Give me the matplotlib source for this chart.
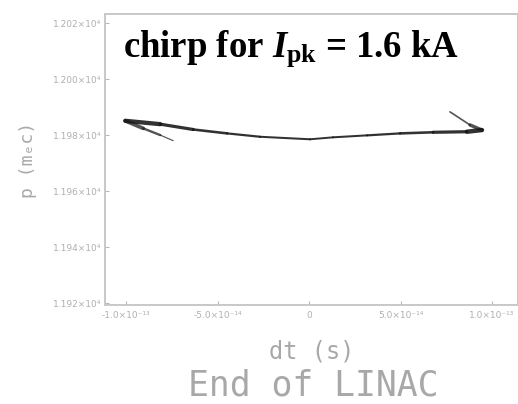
import numpy as np
import matplotlib.pyplot as plt
from matplotlib.collections import LineCollection
from matplotlib.ticker import FixedLocator, FixedFormatter

plt.rcParams['mathtext.fontset'] = 'custom'
plt.rcParams['mathtext.rm'] = 'Liberation Serif:bold'
plt.rcParams['mathtext.bf'] = 'Liberation Serif:bold'
plt.rcParams['mathtext.it'] = 'Liberation Serif:italic:bold'

# longitudinal phase space at the end of the linac
core_dt = [-1.005e-13, -8.14e-14, -6.34e-14, -4.48e-14, -2.68e-14, 0.05e-14,
           1.31e-14, 3.17e-14, 4.97e-14, 6.78e-14, 8.63e-14, 9.45e-14]
core_p = [11985.1, 11983.9, 11982.0, 11980.6, 11979.4, 11978.5,
          11979.2, 11979.9, 11980.6, 11981.0, 11981.2, 11981.8]
core_w = [3.6, 2.6, 2.0, 1.7, 1.5, 1.4, 1.4, 1.5, 1.7, 2.0, 2.6, 3.8]

head_dt = [9.45e-14, 8.80e-14, 7.70e-14]
head_p = [11981.8, 11983.6, 11988.3]
head_w = [3.2, 1.8, 0.6]

tail_dt = [-1.005e-13, -9.07e-14, -8.14e-14, -7.43e-14]
tail_p = [11985.1, 11982.4, 11980.0, 11978.0]
tail_w = [3.2, 2.2, 1.2, 0.5]

xticks = [-1e-13, -5e-14, 0, 5e-14, 1e-13]
xlabels = ['-1.0×10⁻¹³', '-5.0×10⁻¹⁴', '0', '5.0×10⁻¹⁴', '1.0×10⁻¹³']
yticks = [11920, 11940, 11960, 11980, 12000, 12020]
ylabels = ['1.192×10⁴', '1.194×10⁴', '1.196×10⁴', '1.198×10⁴', '1.200×10⁴', '1.202×10⁴']

grey = '#b8b8b8'
text_grey = '#a8a8a8'

fig = plt.figure(figsize=(5.18, 4.04), dpi=100)
ax = fig.add_axes([0.203, 0.245, 0.797, 0.72])


def thick_line(ax, x, y, w, color='black', alpha=1.0):
    x = np.asarray(x)
    y = np.asarray(y)
    segs = [[(x[i], y[i]), (x[i + 1], y[i + 1])] for i in range(len(x) - 1)]
    widths = [(w[i] + w[i + 1]) / 2 for i in range(len(w) - 1)]
    lc = LineCollection(segs, linewidths=widths, colors=color, alpha=alpha,
                        capstyle='round', joinstyle='round')
    ax.add_collection(lc)


thick_line(ax, tail_dt, tail_p, tail_w, color='#1a1a1a', alpha=0.75)
thick_line(ax, head_dt, head_p, head_w, color='#1a1a1a', alpha=0.75)
thick_line(ax, core_dt, core_p, core_w, color='#151515', alpha=0.88)

ax.set_xlim(-1.115e-13, 1.142e-13)
ax.set_ylim(11919.3, 12023.2)

ax.xaxis.set_major_locator(FixedLocator(xticks))
ax.xaxis.set_major_formatter(FixedFormatter(xlabels))
ax.yaxis.set_major_locator(FixedLocator(yticks))
ax.yaxis.set_major_formatter(FixedFormatter(ylabels))
ax.tick_params(direction='in', length=3, width=0.8, color=grey,
               labelcolor='#b0b0b0', labelsize=6.5, pad=4)
ax.tick_params(axis='y', pad=3)
for s in ax.spines.values():
    s.set_color('#c8c8c8')
    s.set_linewidth(1.4)

ax.set_xlabel('dt (s)', color=text_grey, fontsize=17, family='DejaVu Sans Mono',
              labelpad=14)
ax.set_ylabel('p (mₑc)', color=text_grey, fontsize=13, family='DejaVu Sans Mono',
              labelpad=11)
fig.text(0.605, 0.022, 'End of LINAC', color=text_grey, fontsize=25,
         family='DejaVu Sans Mono', ha='center')

fig.text(0.237, 0.86, r'chirp for $\mathit{I}_{\mathrm{pk}}$ = 1.6 kA',
         fontsize=26.5, fontweight='bold', family='Liberation Serif')

fig.savefig('out.png', dpi=100)
